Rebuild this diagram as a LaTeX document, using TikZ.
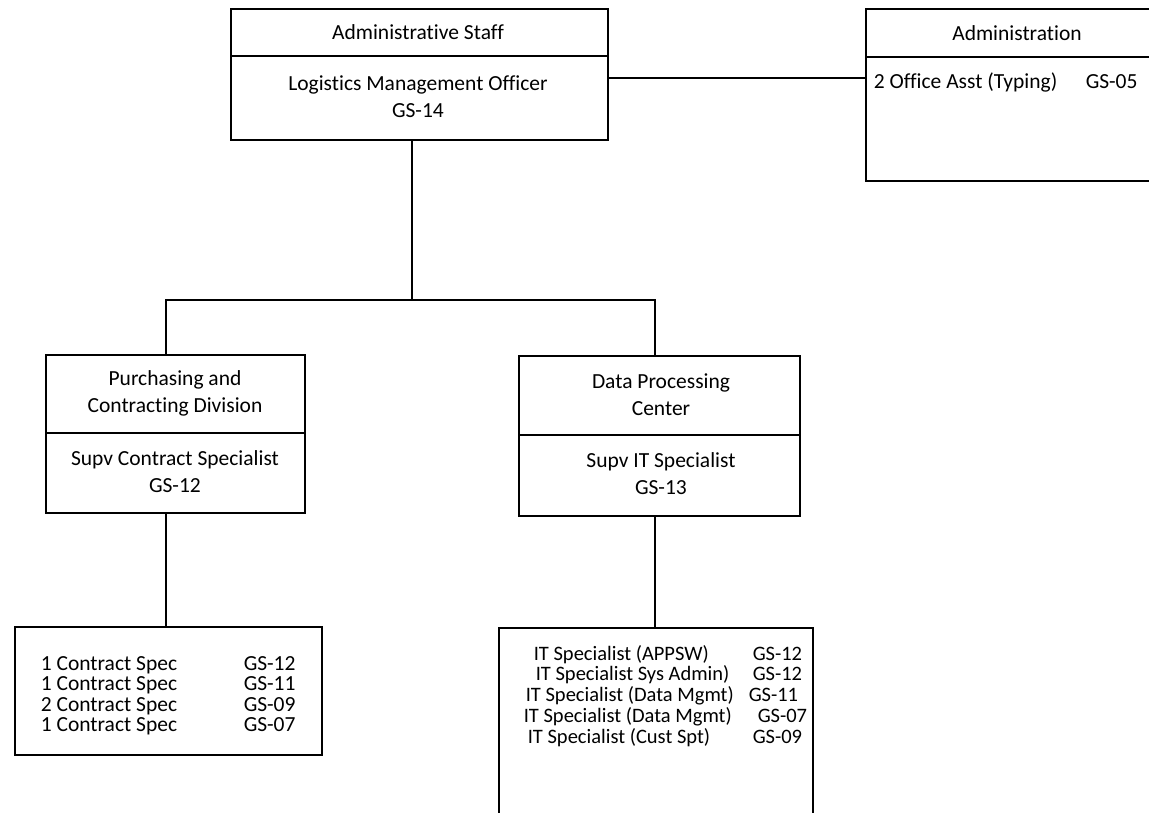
\documentclass[tikz,border=0pt]{standalone}
\usepackage{fontspec}
\setmainfont{Carlito}[Ligatures=NoCommon]
\begin{document}
\begin{tikzpicture}[x=1pt,y=-1pt,
  line width=1.6pt,
  orgbox/.style={draw, line width=1.6pt, inner sep=0pt, anchor=north west},
  lbl/.style={inner sep=0pt, align=center, font=\fontsize{21.5}{27}\selectfont},
  row/.style={inner sep=0pt, anchor=base west, font=\fontsize{21.5}{25}\selectfont},
  itrow/.style={row, font=\fontsize{20.5}{25}\selectfont}]
\useasboundingbox (0,0) rectangle (1149,812);
\clip (0,0) rectangle (1149,812);

% boxes
\node[orgbox, minimum width=377, minimum height=131] (top) at (230,8) {};
\node[orgbox, minimum width=320, minimum height=172] (adm) at (865,8) {};
\node[orgbox, minimum width=259, minimum height=158] (pur) at (45,354) {};
\node[orgbox, minimum width=281, minimum height=160] (dpc) at (518,355) {};
\node[orgbox, minimum width=307, minimum height=128] (cbox) at (14,626) {};
\node[orgbox, minimum width=314, minimum height=220] (itbox) at (498,627) {};

% header dividers
\draw (top.west |- 0,56) -- (top.east |- 0,56);
\draw (adm.west |- 0,57) -- (adm.east |- 0,57);
\draw (pur.west |- 0,433) -- (pur.east |- 0,433);
\draw (dpc.west |- 0,435) -- (dpc.east |- 0,435);

% titles and posts
\node[lbl] (topT) at (418,32) {Administrative Staff};
\node[lbl] (topP) at (418,96.5) {Logistics Management Officer\\GS-14};
\node[lbl] (admT) at (1017,33) {Administration};
\node[row] (admR) at (873,88) {2 Office Asst (Typing)};
\node[row] (admG) at (1085,88) {GS-05};
\node[lbl] (purT) at (175,393) {Purchasing and\\Contracting Division};
\node[lbl] (purP) at (175,472) {Supv Contract Specialist\\GS-12};
\node[lbl] (dpcT) at (661,395) {Data Processing\\Center};
\node[lbl] (dpcP) at (661,473.5) {Supv IT Specialist\\GS-13};

% contract staff (baselines)
\foreach \i/\t/\g in {0/1 Contract Spec/GS-12, 1/1 Contract Spec/GS-11,
                      2/2 Contract Spec/GS-09, 3/1 Contract Spec/GS-07} {
  \node[row] (cs\i) at (40,670+20.5*\i) {\t};
  \node[row] (cg\i) at (243,670+20.5*\i) {\g};
}

% IT staff (baselines)
\foreach \i/\xa/\xb/\t/\g in {0/533/752/IT Specialist (APPSW)/GS-12,
                              1/535/752/IT Specialist Sys Admin)/GS-12,
                              2/525/748/IT Specialist (Data Mgmt)/GS-11,
                              3/523/757/IT Specialist (Data Mgmt)/GS-07,
                              4/527/752/IT Specialist (Cust Spt)/GS-09} {
  \node[itrow] (is\i) at (\xa,660+20.8*\i) {\t};
  \node[itrow] (ig\i) at (\xb,660+20.8*\i) {\g};
}

% connectors
\coordinate (bus) at (412,300);
\draw (top.east |- 0,78) -- (adm.west |- 0,78);
\draw (top.south -| bus) -- (bus);
\draw (pur.north -| 166,0) |- (bus) -| (dpc.north -| 655,0);
\draw (pur.south -| 166,0) -- (cbox.north -| 166,0);
\draw (dpc.south -| 655,0) -- (itbox.north -| 655,0);
\end{tikzpicture}
\end{document}
